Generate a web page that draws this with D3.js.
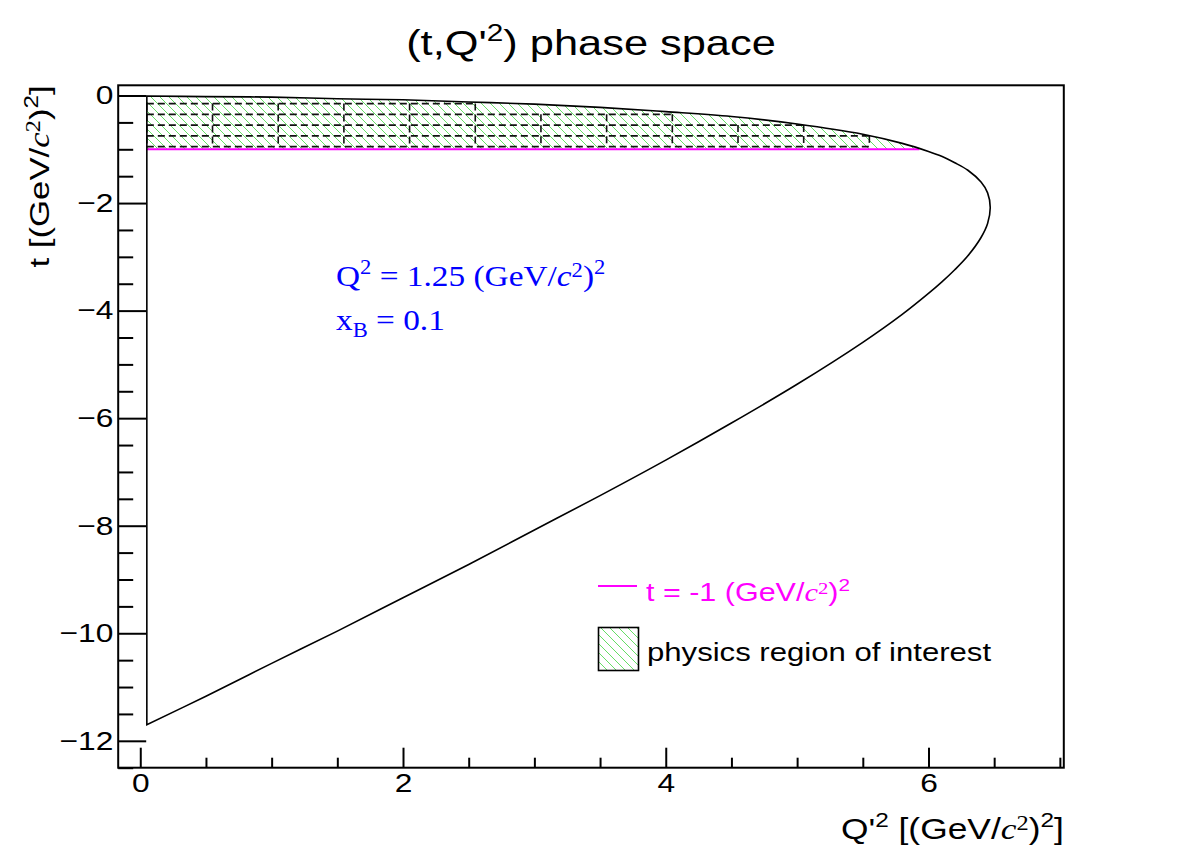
<!DOCTYPE html>
<html>
<head>
<meta charset="utf-8">
<script src="https://cdn.jsdelivr.net/npm/d3@7"></script>
<style>
  body { margin: 0; background: #fff; }
</style>
</head>
<body>
<svg id="chart"></svg>
<script>
// phase space boundary, upper branch (t_max) and lower branch (t_min)
const qUpper = [0.05, 0.5, 1.0, 1.5, 2.0, 2.5, 3.0, 3.5, 4.0, 4.5, 5.0, 5.5, 5.8, 6.0, 6.1, 6.2, 6.3, 6.4, 6.45, 6.47];
const tUpper = [-0.01, -0.02, -0.03, -0.06, -0.08, -0.12, -0.16, -0.22, -0.30, -0.39, -0.53, -0.72, -0.89, -1.04, -1.13, -1.25, -1.39, -1.61, -1.81, -2.08];
const qLower = [6.45, 6.4, 6.3, 6.2, 6.1, 6.0, 5.8, 5.5, 5.0, 4.5, 4.0, 3.5, 3.0, 2.5, 2.0, 1.5, 1.0, 0.5, 0.05];
const tLower = [-2.38, -2.64, -2.98, -3.24, -3.47, -3.68, -4.07, -4.59, -5.37, -6.09, -6.78, -7.44, -8.08, -8.72, -9.34, -9.96, -10.56, -11.17, -11.70];

// t = -1 cut line
const tCut = -1;
const qCutStart = 0.05;
const qCutEnd = 5.93;

// dashed bins: columns in Q'2 and their top edge in t
const binLowQ = [0.05, 0.55, 1.05, 1.55, 2.05, 2.55, 3.05, 3.55, 4.05, 4.55, 5.05];
const binTopT = [-0.15, -0.15, -0.15, -0.15, -0.15, -0.35, -0.35, -0.35, -0.55, -0.55, -0.75];
const tRowEdges = [-0.15, -0.35, -0.55, -0.75, -0.95];
const binWidthQ = 0.5;

const xMajor = [0, 2, 4, 6];
const yMajor = [0, -2, -4, -6, -8, -10, -12];

const W = 1182, H = 853;
const margin = {top: 85.3, right: 118.2, bottom: 85.3, left: 118.2};

const sans = "'Liberation Sans', Arial, Helvetica, sans-serif";
const serif = "'Liberation Serif', 'Times New Roman', serif";
const stretch = 1.22; // text in the original is wider than Liberation at equal height

const svg = d3.select('#chart')
    .attr('width', W)
    .attr('height', H)
    .style('display', 'block');

const x = d3.scaleLinear().domain([-0.168, 7.03]).range([margin.left, W - margin.right]);
const y = d3.scaleLinear().domain([-12.5, 0.19]).range([H - margin.bottom, margin.top]);

// hatch pattern
const defs = svg.append('defs');
const pat = defs.append('pattern')
    .attr('id', 'hatch')
    .attr('patternUnits', 'userSpaceOnUse')
    .attr('width', 9)
    .attr('height', 9);
pat.append('path')
    .attr('d', 'M0,0 L9,9 M-1,8 L1,10 M8,-1 L10,1')
    .attr('stroke', '#3fd63f')
    .attr('stroke-width', 0.8)
    .attr('fill', 'none');

// text with super/subscripts, placed with a transform so it can be widened
function rich(transform, parts, baseSize, opts = {}) {
    const sel = svg.append('text')
        .attr('transform', transform)
        .attr('text-anchor', opts.anchor || 'start')
        .attr('fill', opts.fill || '#000')
        .style('font-family', opts.font || sans)
        .style('font-size', baseSize + 'px');
    let shift = 0;
    parts.forEach(p => {
        let target = 0;
        if (p.sup) target = -p.sup * baseSize;
        if (p.sub) target = 0.25 * baseSize;
        sel.append('tspan')
            .attr('dy', target - shift)
            .style('font-family', p.font || null)
            .style('font-style', p.italic ? 'italic' : null)
            .style('font-size', (p.size || baseSize) + 'px')
            .text(p.t);
        shift = target;
    });
    return sel;
}

// hatched region of interest
const hatchPts = qUpper.map((q, i) => [q, tUpper[i]]).filter(d => d[1] >= tCut);
hatchPts.push([qCutEnd, tCut]);
svg.append('path')
    .datum(hatchPts)
    .attr('fill', 'url(#hatch)')
    .attr('stroke', 'none')
    .attr('d', d3.area()
        .x(d => x(d[0]))
        .y0(y(tCut))
        .y1(d => y(d[1]))
        .curve(d3.curveCatmullRom));

// dashed bin grid, every edge drawn once
const segs = [];
const bottomT = tRowEdges[tRowEdges.length - 1];
binLowQ.concat([binLowQ[binLowQ.length - 1] + binWidthQ]).forEach((q, i) => {
    const tops = [binTopT[i - 1], binTopT[i]].filter(v => v !== undefined);
    segs.push({q0: q, q1: q, t0: bottomT, t1: d3.max(tops)});
});
tRowEdges.forEach(t => {
    let start = null;
    binLowQ.forEach((q, i) => {
        const inside = t <= binTopT[i] + 1e-9;
        if (inside && start === null) start = q;
        const nextInside = i + 1 < binLowQ.length && t <= binTopT[i + 1] + 1e-9;
        if (inside && !nextInside) {
            segs.push({q0: start, q1: q + binWidthQ, t0: t, t1: t});
            start = null;
        }
    });
});
svg.append('g')
    .selectAll('line')
    .data(segs)
    .enter().append('line')
    .attr('x1', d => x(d.q0))
    .attr('x2', d => x(d.q1))
    .attr('y1', d => y(d.t1))
    .attr('y2', d => y(d.t0))
    .attr('stroke', '#111')
    .attr('stroke-width', 1.6)
    .attr('stroke-dasharray', '7,4');

// t = -1 line
svg.append('line')
    .attr('x1', x(qCutStart)).attr('x2', x(qCutEnd))
    .attr('y1', y(tCut)).attr('y2', y(tCut))
    .attr('stroke', '#ff00ff')
    .attr('stroke-width', 2);

// phase space boundary: smooth branches, closed by the straight edge at Q'2 = 0.05
const boundary = qUpper.map((q, i) => [q, tUpper[i]])
    .concat(qLower.map((q, i) => [q, tLower[i]]));
svg.append('path')
    .datum(boundary)
    .attr('fill', 'none')
    .attr('stroke', '#000')
    .attr('stroke-width', 1.6)
    .attr('d', d => d3.line()
        .x(p => x(p[0]))
        .y(p => y(p[1]))
        .curve(d3.curveCatmullRom.alpha(0.5))(d) + 'Z');

// frame
svg.append('rect')
    .attr('x', margin.left)
    .attr('y', margin.top)
    .attr('width', W - margin.left - margin.right)
    .attr('height', H - margin.top - margin.bottom)
    .attr('fill', 'none')
    .attr('stroke', '#000')
    .attr('stroke-width', 2);

// axes
const xMinor = d3.range(1, 15).map(i => i * 0.5).filter(v => !xMajor.includes(v));
const yMinor = d3.range(1, 26).map(i => -i * 0.5).filter(v => !yMajor.includes(v));

function styleAxis(g) {
    g.select('.domain').remove();
    g.selectAll('line').attr('stroke', '#000').attr('stroke-width', 2);
    g.selectAll('text')
        .attr('fill', '#000')
        .attr('transform', `scale(${stretch},1)`)
        .style('font-family', sans)
        .style('font-size', '26px');
}

svg.append('g')
    .attr('transform', `translate(0,${H - margin.bottom})`)
    .call(d3.axisBottom(x).tickValues(xMajor).tickSize(-20).tickPadding(6).tickFormat(d3.format('d')))
    .call(styleAxis);
svg.append('g')
    .attr('transform', `translate(0,${H - margin.bottom})`)
    .call(d3.axisBottom(x).tickValues(xMinor).tickSize(-10).tickFormat(''))
    .call(styleAxis);

svg.append('g')
    .attr('transform', `translate(${margin.left},0)`)
    .call(d3.axisLeft(y).tickValues(yMajor).tickSize(-28).tickPadding(4).tickFormat(d3.format('d')))
    .call(styleAxis);
svg.append('g')
    .attr('transform', `translate(${margin.left},0)`)
    .call(d3.axisLeft(y).tickValues(yMinor).tickSize(-15).tickFormat(''))
    .call(styleAxis);

// title
rich(`translate(${W / 2},55) scale(1.24,1)`, [
    {t: '(t,Q\''},
    {t: '2', sup: 0.4, size: 24},
    {t: ') phase space'}
], 35, {anchor: 'middle'});

// x title
rich(`translate(${W - margin.right},839) scale(${stretch},1)`, [
    {t: 'Q\''},
    {t: '2', sup: 0.4, size: 20},
    {t: ' [(GeV/'},
    {t: 'c', font: serif, italic: true},
    {t: '2', font: serif, sup: 0.3, size: 20},
    {t: ')'},
    {t: '2', sup: 0.4, size: 20},
    {t: ']'}
], 29, {anchor: 'end'});

// y title
rich(`translate(49,${margin.top}) rotate(-90) scale(${stretch},1)`, [
    {t: 't [(GeV/'},
    {t: 'c', font: serif, italic: true},
    {t: '2', font: serif, sup: 0.3, size: 20},
    {t: ')'},
    {t: '2', sup: 0.4, size: 20},
    {t: ']'}
], 28.5, {anchor: 'end'});

// kinematics annotation
rich('translate(336,286) scale(1.13,1)', [
    {t: 'Q'},
    {t: '2', sup: 0.42, size: 20},
    {t: ' = 1.25 (GeV/'},
    {t: 'c', italic: true},
    {t: '2', sup: 0.3, size: 20},
    {t: ')'},
    {t: '2', sup: 0.42, size: 20}
], 29.5, {fill: '#0000ff', font: serif});
rich('translate(336,330) scale(1.13,1)', [
    {t: 'x'},
    {t: 'B', sub: true, size: 20},
    {t: ' = 0.1'}
], 29.5, {fill: '#0000ff', font: serif});

// legend
svg.append('line')
    .attr('x1', 598).attr('x2', 637)
    .attr('y1', 586).attr('y2', 586)
    .attr('stroke', '#ff00ff')
    .attr('stroke-width', 2);
rich(`translate(646,601) scale(${stretch},1)`, [
    {t: 't = -1 (GeV/'},
    {t: 'c', font: serif, italic: true},
    {t: '2', font: serif, sup: 0.3, size: 17},
    {t: ')'},
    {t: '2', sup: 0.42, size: 17}
], 25, {fill: '#ff00ff'});
svg.append('rect')
    .attr('x', 598.5).attr('y', 627.5)
    .attr('width', 40).attr('height', 43)
    .attr('fill', 'url(#hatch)')
    .attr('stroke', '#000')
    .attr('stroke-width', 1.6);
rich(`translate(647,661) scale(${stretch},1)`, [
    {t: 'physics region of interest'}
], 25.5);
</script>
</body>
</html>
